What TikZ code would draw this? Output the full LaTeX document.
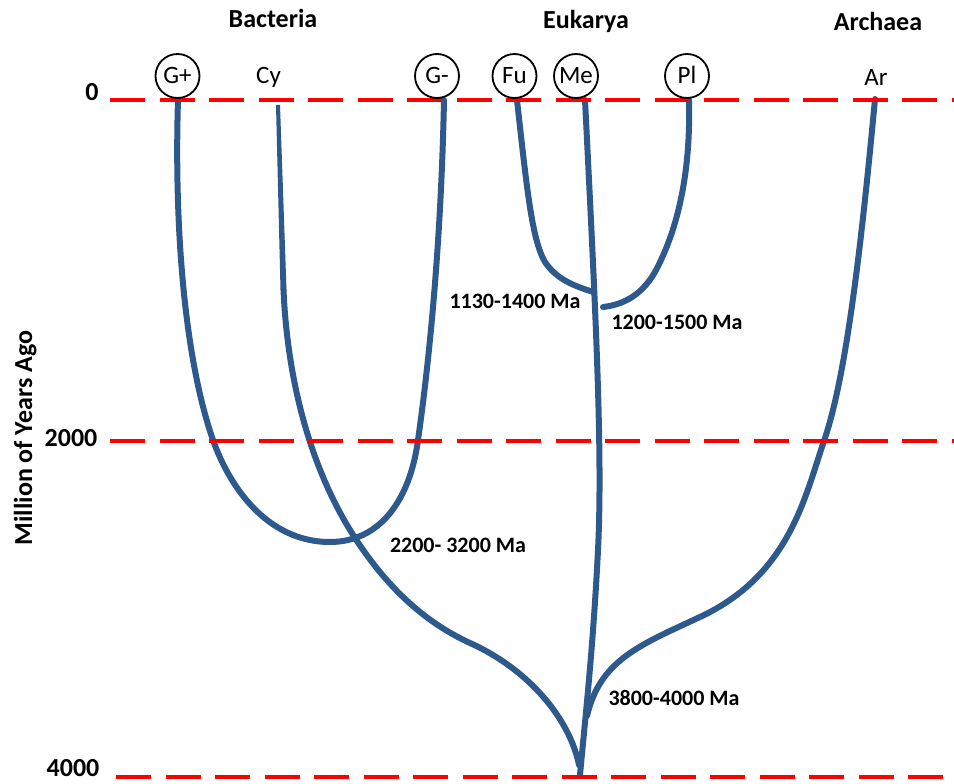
\documentclass[tikz,border=0pt]{standalone}
\usepackage{fontspec}
\setmainfont{Carlito}
\definecolor{branch}{RGB}{46,89,140}
\begin{document}
\begin{tikzpicture}[x=1pt,y=-1pt,
  br/.style={draw=branch, line width=6pt, line cap=round, line join=round},
  timeline/.style={draw=red, line width=4pt, dash pattern=on 35pt off 14.5pt},
  hdr/.style={font=\fontsize{26}{30}\selectfont\bfseries, anchor=base, inner sep=0pt},
  tax/.style={circle, draw, fill=white, line width=1.8pt, minimum size=44pt, inner sep=0pt, font=\fontsize{25}{30}\selectfont, text height=16pt, text depth=0pt},
  plainlbl/.style={font=\fontsize{25}{30}\selectfont, anchor=base, inner sep=0pt},
  age/.style={font=\fontsize{22}{26}\selectfont\bfseries, anchor=base, inner sep=0pt},
  ytick/.style={font=\fontsize{26}{30}\selectfont\bfseries, anchor=base, inner sep=0pt}]
\fill[white] (0,0) rectangle (954,784);
\useasboundingbox (0,0) rectangle (954,784);

% headers
\node[hdr] (bac) at (273,28) {Bacteria};
\node[hdr] (euk) at (586,29) {Eukarya};
\node[hdr] (arc) at (878,31) {Archaea};

% axis
\node[ytick] (t0) at (92,101) {0};
\node[ytick] (t2) at (71,446) {2000};
\node[ytick] (t4) at (73,776) {4000};
\node[font=\fontsize{26}{30}\selectfont\bfseries, rotate=90, anchor=base, inner sep=0pt] (yl) at (32,438) {Million of Years Ago};

% endpoints and junctions
\coordinate (gpT) at (178,100);
\coordinate (cyT) at (278,105);
\coordinate (gmT) at (444,100);
\coordinate (fuT) at (517,100);
\coordinate (meT) at (585,100);
\coordinate (plT) at (689,100);
\coordinate (arT) at (875,99);
\coordinate (jB) at (357,541);
\coordinate (jF) at (593,292);
\coordinate (jP) at (603,307);
\coordinate (jA) at (587,716);
\coordinate (root) at (580,775);

% Gram-positive / Gram-negative U
\draw[br] (gpT) .. controls (174,230) and (185,360) .. (213,440)
  .. controls (228,483) and (265,542) .. (330,542)
  .. controls (380,542) and (410,500) .. (418,440)
  .. controls (428,370) and (441,250) .. (gmT);
% Cyanobacteria (tapered top)
\fill[branch] (276,105) -- (280,105) -- (286.5,290) -- (280.5,290) -- cycle;
\draw[br] (283.5,290) .. controls (287.5,380) and (310,470) .. (jB)
  .. controls (385,583) and (420,620) .. (470,643)
  .. controls (530,670) and (570,720) .. (579,765);
% Metazoa main stem
\draw[br] (meT) .. controls (595,300) and (603,450) .. (598,550)
  .. controls (593,650) and (585,720) .. (root);
% Archaea
\draw[br] (arT) .. controls (860,260) and (845,380) .. (824,441)
  .. controls (805,496) and (790,575) .. (700,617)
  .. controls (640,645) and (600,660) .. (jA);
% Fungi
\draw[br] (fuT) .. controls (527,190) and (532,240) .. (545,262)
  .. controls (557,280) and (575,286) .. (jF);
% Plants
\draw[br] (plT) .. controls (691,180) and (675,235) .. (655,272)
  .. controls (640,298) and (620,305) .. (jP);

% time lines
\draw[timeline] (110,100) coordinate (l0a) -- (954,100) coordinate (l0b);
\draw[timeline] (110,441) coordinate (l2a) -- (954,441) coordinate (l2b);
\draw[timeline] (116,777) coordinate (l4a) -- (954,777) coordinate (l4b);

% taxa
\node[tax] (gp) at (177.5,76) {G+};
\node[tax] (gm) at (437,76) {G-};
\node[tax] (fu) at (514.5,76) {Fu};
\node[tax] (me) at (576,76) {Me};
\node[tax] (pl) at (687,76) {Pl};
\node[plainlbl] (cy) at (268.5,84) {Cy};
\node[plainlbl] (ar) at (876,85) {Ar};

% ages
\node[age] (a1) at (515,308) {1130-1400 Ma};
\node[age] (a2) at (677,329) {1200-1500 Ma};
\node[age] (a3) at (458,552) {2200- 3200 Ma};
\node[age] (a4) at (674,705) {3800-4000 Ma};
\end{tikzpicture}
\end{document}
